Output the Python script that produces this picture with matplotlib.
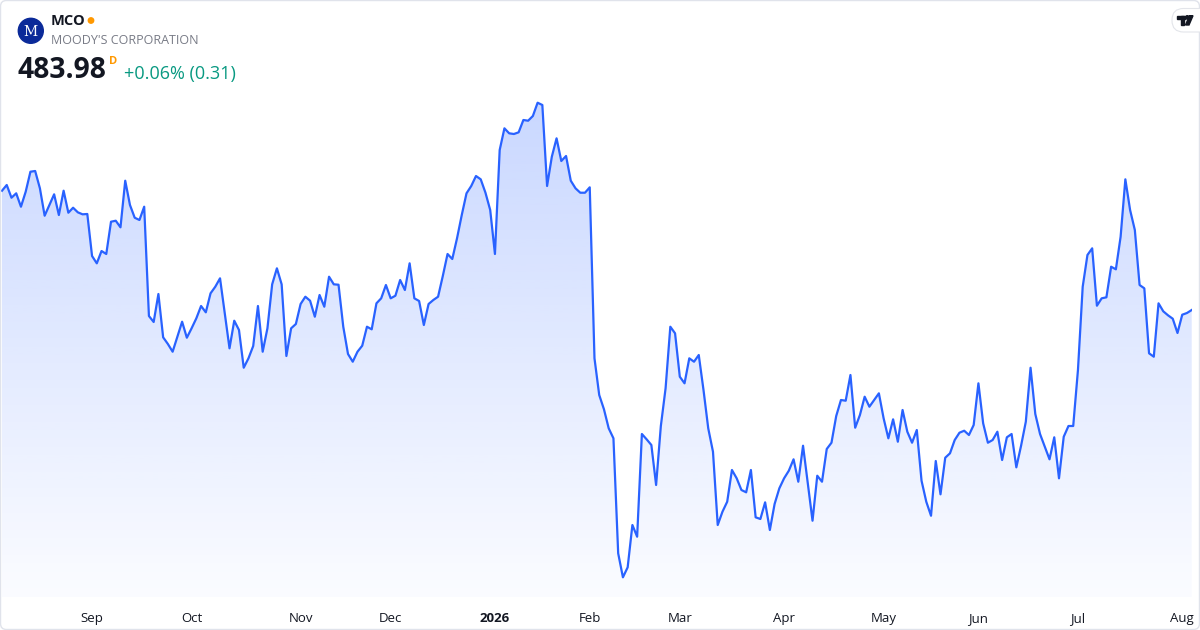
import numpy as np
import pandas as pd
import matplotlib
matplotlib.use("Agg")
import matplotlib.pyplot as plt
from matplotlib.colors import to_rgb
from matplotlib.patches import FancyBboxPatch, Circle, Rectangle, Polygon

plt.rcParams['font.family'] = ['Open Sans', 'DejaVu Sans']

# header texts
TICKER = "MCO"
NAME = "MOODY'S CORPORATION"
LAST = "483.98"
CHANGE = "+0.06% (0.31)"

# NYSE holidays inside the window
holidays = ["2025-09-01", "2025-11-27", "2025-12-25", "2026-01-01", "2026-01-19",
            "2026-02-16", "2026-04-03", "2026-05-25", "2026-06-19", "2026-07-03"]
dates = pd.bdate_range("2025-08-05", "2026-08-05", freq="C", holidays=holidays)

# daily closes
closes = [
    513.80, 515.23, 512.05, 513.15, 509.80, 513.55, 518.55, 518.73, 514.40, 507.55,
    510.23, 512.90, 507.73, 513.80, 508.30, 509.55, 508.40, 507.90, 507.98, 497.48,
    495.65, 498.73, 497.98, 506.05, 506.30, 504.65, 516.30, 510.23, 507.05, 506.48,
    509.80, 482.48, 480.98, 487.98, 477.15, 475.48, 473.55, 477.30, 481.05, 477.05,
    479.40, 481.90, 484.98, 483.40, 488.15, 489.80, 491.90, 483.15, 474.40, 481.30,
    478.98, 469.55, 471.90, 474.98, 484.98, 473.55, 479.40, 490.40, 494.40, 490.40,
    472.48, 479.40, 480.48, 485.48,
    487.30, 486.30, 482.30, 487.73, 484.80, 492.30, 490.40, 490.30, 479.80, 472.98,
    471.05, 473.55, 475.05, 479.80, 479.15, 485.65, 486.90, 490.23, 486.90, 487.55,
    491.48, 488.98, 495.65, 486.90, 486.23, 480.23, 485.48, 486.48, 487.30, 492.48,
    497.98, 496.73, 501.90, 507.73, 513.15, 514.98, 517.48, 516.65, 513.30, 508.98,
    497.98, 523.98, 529.40, 528.15, 527.98, 528.40, 531.48, 531.30, 532.48, 535.80,
    535.23, 514.98, 522.30, 526.90, 521.23, 522.48, 516.30, 514.40, 513.30, 513.30,
    514.65,
    471.90, 462.73, 459.15, 454.40, 451.90, 423.15, 417.15, 419.65, 430.23, 427.30,
    452.98, 451.65, 450.23, 440.23, 454.98, 464.40, 479.80, 478.15, 467.30, 465.65,
    471.90, 471.05, 472.73, 463.98, 454.40, 448.55, 430.23, 433.55, 436.05, 443.98,
    441.90, 438.98, 438.40, 443.98, 432.15, 431.73, 435.90, 428.98, 435.48, 439.40,
    441.90, 443.80, 446.65, 441.05, 450.05, 440.65, 431.30, 442.55, 441.05, 449.23,
    450.80, 457.48, 461.48, 461.30, 467.73, 454.55, 457.73, 462.30, 459.80, 461.48,
    463.15,
    456.90, 451.90, 456.65, 451.05, 458.98, 453.55, 450.80, 453.98, 441.30, 436.05,
    432.55, 446.23, 437.90, 447.05, 448.15, 451.48, 453.30, 453.80, 452.73, 455.23,
    465.65, 455.65, 450.80, 451.48, 453.55, 446.48, 452.15, 452.98, 444.65, 450.05,
    456.05, 469.55, 457.98, 452.98, 449.81, 446.65, 452.15, 441.90, 452.30, 454.98,
    454.98, 468.98, 489.80, 497.73, 499.40, 485.05, 486.90, 487.15, 494.80, 494.15,
    502.30, 516.65, 508.98, 503.98, 490.23, 489.40, 473.15, 472.30, 485.65, 483.65,
    482.65, 481.80, 478.23, 482.80, 483.23, 483.98,
]

BLUE = "#2962ff"
Y_LO, Y_HI = 412.23, 561.48

fig = plt.figure(figsize=(12, 6.3), dpi=100, facecolor="white")
ax = fig.add_axes([0, 33 / 630, 1192 / 1200, 597 / 630])

x = np.arange(len(closes))
y = np.array(closes)
x_lo, x_hi = -0.42, len(closes) - 1 + 0.06
ax.set_xlim(x_lo, x_hi)
ax.set_ylim(Y_LO, Y_HI)

# gradient area under the line
fill = ax.fill_between(x, y, Y_LO, color="none", lw=0)
grad = np.zeros((256, 1, 4))
grad[..., :3] = to_rgb(BLUE)
grad[:, 0, 3] = np.linspace(0.02, 0.30, 256)
im = ax.imshow(grad, extent=[x_lo, x_hi, Y_LO, Y_HI], origin="lower",
               aspect="auto", zorder=1, interpolation="bilinear")
im.set_clip_path(fill.get_paths()[0], transform=ax.transData)

ax.plot(x, y, color=BLUE, lw=1.6, zorder=3, solid_joinstyle="round")

# month ticks at first trading day of each month
month_key = dates.year * 100 + dates.month
first_idx = [i for i in range(1, len(dates)) if month_key[i] != month_key[i - 1]]
labels = [str(dates[i].year) if dates[i].month == 1 else dates[i].strftime("%b") for i in first_idx]
ax.set_xticks(first_idx)
ax.set_xticklabels(labels, fontsize=9.5, color="#131722")
for t in ax.get_xticklabels():
    if t.get_text().isdigit():
        t.set_fontweight("bold")
ax.tick_params(axis="x", length=0, pad=11)
ax.set_yticks([])
for s in ax.spines.values():
    s.set_visible(False)
ax.set_facecolor("white")

# overlay in pixel coordinates for header and card
ov = fig.add_axes([0, 0, 1, 1])
ov.set_xlim(0, 1200)
ov.set_ylim(630, 0)
ov.axis("off")
ov.patch.set_alpha(0)

ov.add_patch(FancyBboxPatch((0.5, 0.5), 1199, 629, boxstyle="round,pad=0,rounding_size=6",
                            fc="none", ec="#e0e3eb", lw=1))

# logo
ov.add_patch(Circle((30.8, 30.8), 12.5, color="#0b2a99"))
ov.text(30.8, 31.5, "M", color="white", fontsize=10, ha="center", va="center",
        family="DejaVu Serif")
ov.text(51, 21, TICKER, fontsize=10.5, fontweight="bold", color="#131722", va="center")
ov.add_patch(Circle((91, 20.5), 2.7, color="#ff9800"))
ov.text(51, 40.5, NAME, fontsize=9, color="#787b86", va="center")
ov.text(17.5, 71, LAST, fontsize=20.3, fontweight="bold", color="#131722", va="center")
ov.text(109, 61, "D", fontsize=8, fontweight="bold", color="#ff9800", va="center")
ov.text(124, 74.5, CHANGE, fontsize=13, color="#089981", va="center")

# TradingView badge
ov.add_patch(FancyBboxPatch((1172, 8.5), 40, 23.5, boxstyle="round,pad=0,rounding_size=11.5",
                            fc="white", ec="#e3e5ea", lw=0.8))
ov.add_patch(Rectangle((1177, 15.7), 8, 3.3, color="#131722"))
ov.add_patch(Rectangle((1180.5, 15.7), 3.3, 9.3, color="#131722"))
ov.add_patch(Circle((1187.3, 17.4), 1.7, color="#131722"))
ov.add_patch(Polygon([(1189.5, 15.7), (1193, 15.7), (1189, 25), (1185.5, 25)], color="#131722"))

fig.savefig("out.png", dpi=100, facecolor="white")
